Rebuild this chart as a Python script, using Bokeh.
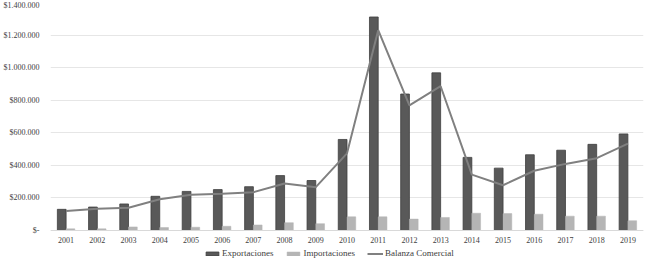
from bokeh.plotting import figure
from bokeh.models import FactorRange, Range1d, FixedTicker, Legend, LegendItem, ColumnDataSource, Span
from bokeh.transform import dodge
from bokeh.core.properties import value
from bokeh.embed import file_html
from bokeh.resources import INLINE

years = [str(y) for y in range(2001, 2020)]
exportaciones = [130000, 144000, 163000, 210000, 240000, 251000, 269000, 337000, 307000, 559000,
                 1311000, 838000, 968000, 449000, 383000, 465000, 493000, 529000, 593000]
importaciones = [10000, 10000, 22000, 18000, 20000, 26000, 34000, 48000, 42000, 84000,
                 84000, 70000, 80000, 106000, 104000, 100000, 88000, 88000, 60000]
balanza = [120000, 134000, 140000, 192000, 220000, 225000, 235000, 289000, 266000, 474000,
           1230000, 768000, 886000, 343000, 278000, 367000, 409000, 444000, 533000]
y_ticks = [0, 200000, 400000, 600000, 800000, 1000000, 1200000, 1400000]
y_labels = ["$-", "$200.000", "$400.000", "$600.000", "$800.000", "$1.000.000", "$1.200.000", "$1.400.000"]

src = ColumnDataSource(dict(years=years, exp=exportaciones, imp=importaciones, bal=balanza,
                            base=[0] * len(years)))

FONT = "Liberation Serif"
Y_MAX = 1400000
PLOT_PX = 228      # pixels for 0..Y_MAX
BELOW_PX = 29      # pixels of the frame kept below zero for year labels and legend
y_start = -Y_MAX * BELOW_PX / PLOT_PX

p = figure(x_range=FactorRange(*years, range_padding=0), y_range=Range1d(y_start, Y_MAX),
           frame_width=593, frame_height=PLOT_PX + BELOW_PX, output_backend="svg", toolbar_location=None,
           min_border_left=40, min_border_right=1, min_border_top=2, min_border_bottom=0,
           background_fill_color="white", border_fill_color="white")
p.outline_line_color = None

r_exp = p.vbar(x=dodge("years", -0.14, range=p.x_range), top="exp", width=0.28, source=src,
               fill_color="#595959", line_color="#3f3f3f", line_width=0.8)
r_imp = p.vbar(x=dodge("years", 0.14, range=p.x_range), top="imp", width=0.28, source=src,
               fill_color="#b5b5b5", line_color="#b5b5b5", line_width=0.5)
r_bal = p.line(x="years", y="bal", source=src, line_color="#808080", line_width=2)

p.add_layout(Span(location=0, dimension="width", line_color="#d9d9d9", line_width=1))

# year labels under the baseline
p.text(x="years", y="base", text="years", source=src, y_offset=9,
       text_align="center", text_baseline="middle",
       text_font=value(FONT), text_font_size="8px", text_color="#404040")

p.xaxis.visible = False
p.xgrid.grid_line_color = None
p.ygrid.grid_line_color = "#e6e6e6"
p.ygrid.grid_line_width = 1
p.ygrid.ticker = FixedTicker(ticks=y_ticks)
p.yaxis.ticker = FixedTicker(ticks=y_ticks)
p.yaxis.major_label_overrides = {t: l for t, l in zip(y_ticks, y_labels)}
p.yaxis.axis_line_color = None
p.yaxis.major_tick_line_color = None
p.yaxis.minor_tick_line_color = None
p.yaxis.major_label_standoff = 5
p.yaxis.major_label_text_font = FONT
p.yaxis.major_label_text_font_size = "8px"
p.yaxis.major_label_text_color = "#404040"

legend = Legend(items=[LegendItem(label="Exportaciones", renderers=[r_exp]),
                       LegendItem(label="Importaciones", renderers=[r_imp]),
                       LegendItem(label="Balanza Comercial", renderers=[r_bal])],
                orientation="horizontal", location=(154, 0),
                label_text_font=FONT, label_text_font_size="9px", label_text_color="#404040",
                glyph_width=16, glyph_height=5, label_height=12, label_standoff=2,
                spacing=12, padding=1, margin=0, border_line_color=None,
                background_fill_alpha=0)
p.add_layout(legend, "center")

open("out.html", "w").write(file_html(p, INLINE))
